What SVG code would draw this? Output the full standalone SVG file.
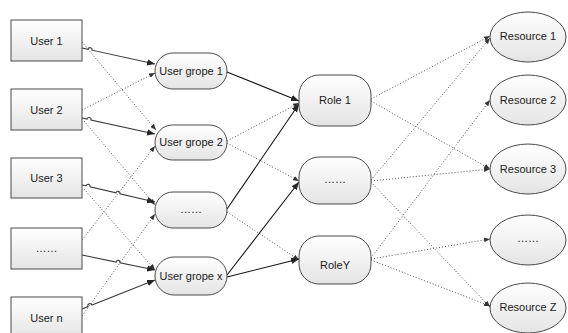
<svg xmlns="http://www.w3.org/2000/svg" width="568" height="333" viewBox="0 0 568 333">
  <defs>
    <linearGradient id="fillGrad" x1="0" y1="0" x2="0" y2="1">
      <stop offset="0" stop-color="#ffffff"/>
      <stop offset="1" stop-color="#e4e4e4"/>
    </linearGradient>
    <marker id="arrowSolid" markerUnits="userSpaceOnUse" markerWidth="9" markerHeight="8" refX="8" refY="4" orient="auto">
      <path d="M0,0.8 L8,4 L0,7.2 Z" fill="#262626"/>
    </marker>
    <marker id="arrowDot" markerUnits="userSpaceOnUse" markerWidth="7" markerHeight="6" refX="6" refY="3" orient="auto">
      <path d="M0,0.6 L6,3 L0,5.4 Z" fill="#333333"/>
    </marker>
  </defs>
  <style>
    .box { fill: url(#fillGrad); stroke: #4a4a4a; stroke-width: 1; }
    .lbl { font-family: "Liberation Sans", Arial, sans-serif; font-size: 11px; fill: #1a1a1a; text-anchor: middle; dominant-baseline: central; }
    .solid { fill: none; stroke: #3a3a3a; stroke-width: 1.1; marker-end: url(#arrowSolid); }
    .solidDark { fill: none; stroke: #111111; stroke-width: 1.1; marker-end: url(#arrowSolid); }
    .dotted { fill: none; stroke: #555555; stroke-width: 1; stroke-dasharray: 1 2; marker-end: url(#arrowDot); }
  </style>

  <!-- connectors -->
  <g id="connectors">
    <!-- users to user groups -->
    <path class="solid" d="M82,48 L88,49.3 A2,2 0 0 1 92,50.2 L155,64"/>
    <path class="dotted" d="M82,42 L156,130"/>
    <path class="dotted" d="M82,110 L155,73"/>
    <path class="solid" d="M82,118 L87,119.1 A2,2 0 0 1 91,120 L155,134"/>
    <path class="dotted" d="M84,121 L155,205"/>
    <path class="solid" d="M82,185 L86,185.9 A2,2 0 0 1 90,186.9 L116,192.9 A2,2 0 0 1 120,193.8 L155,202"/>
    <path class="dotted" d="M84,189 L155,270"/>
    <path class="dotted" d="M82,240 L155,146"/>
    <path class="solid" d="M82,255 L116,262 A2,2 0 0 1 120,262.8 L155,270"/>
    <path class="solid" d="M82,309 L88,306.6 A2,2 0 0 1 92,305 L155,280"/>
    <path class="dotted" d="M82,316 L155,214"/>

    <!-- user groups to roles -->
    <path class="solidDark" d="M227,72 L299,101"/>
    <path class="dotted" d="M227,141 L299,103"/>
    <path class="dotted" d="M227,143 L299,181"/>
    <path class="solidDark" d="M227,209 L299,104"/>
    <path class="dotted" d="M227,212 L299,260"/>
    <path class="solidDark" d="M227,275 L299,182"/>
    <path class="solidDark" d="M227,277 L299,259"/>

    <!-- roles to resources -->
    <path class="dotted" d="M371,99 L490,36"/>
    <path class="dotted" d="M371,101 L490,169"/>
    <path class="dotted" d="M371,180 L490,38"/>
    <path class="dotted" d="M371,181 L490,169"/>
    <path class="dotted" d="M371,182 L490,307"/>
    <path class="dotted" d="M371,258 L490,100"/>
    <path class="dotted" d="M371,259 L490,239"/>
    <path class="dotted" d="M371,260 L490,306"/>
  </g>

  <!-- users -->
  <g id="user1"><rect class="box" x="11" y="20" width="71" height="41"/><text class="lbl" x="46.5" y="41">User 1</text></g>
  <g id="user2"><rect class="box" x="11" y="89" width="71" height="41"/><text class="lbl" x="46.5" y="110">User 2</text></g>
  <g id="user3"><rect class="box" x="11" y="158" width="71" height="40"/><text class="lbl" x="46.5" y="178">User 3</text></g>
  <g id="userMore"><rect class="box" x="11" y="228" width="71" height="41"/><text class="lbl" x="46.5" y="248">……</text></g>
  <g id="userN"><rect class="box" x="11" y="297" width="71" height="41"/><text class="lbl" x="46.5" y="318">User n</text></g>

  <!-- user groups -->
  <g id="group1"><rect class="box" x="155" y="53" width="72" height="36" rx="18" ry="18"/><text class="lbl" x="191" y="71">User grope 1</text></g>
  <g id="group2"><rect class="box" x="155" y="125" width="72" height="35" rx="17.5" ry="17.5"/><text class="lbl" x="191" y="142">User grope 2</text></g>
  <g id="groupMore"><rect class="box" x="155" y="192" width="72" height="36" rx="18" ry="18"/><text class="lbl" x="191" y="209">……</text></g>
  <g id="groupX"><rect class="box" x="155" y="257" width="72" height="38" rx="19" ry="19"/><text class="lbl" x="191" y="276">User grope x</text></g>

  <!-- roles -->
  <g id="role1"><rect class="box" x="299" y="75" width="72" height="51" rx="20" ry="20"/><text class="lbl" x="335" y="100">Role 1</text></g>
  <g id="roleMore"><rect class="box" x="299" y="157" width="72" height="47" rx="20" ry="20"/><text class="lbl" x="335" y="179">……</text></g>
  <g id="roleY"><rect class="box" x="299" y="236" width="72" height="48" rx="20" ry="20"/><text class="lbl" x="335" y="265">RoleY</text></g>

  <!-- resources -->
  <g id="res1"><ellipse class="box" cx="528" cy="37" rx="38" ry="25"/><text class="lbl" x="528" y="36">Resource 1</text></g>
  <g id="res2"><ellipse class="box" cx="528" cy="100" rx="38" ry="25"/><text class="lbl" x="528" y="100">Resource 2</text></g>
  <g id="res3"><ellipse class="box" cx="528" cy="169" rx="38" ry="25"/><text class="lbl" x="528" y="169">Resource 3</text></g>
  <g id="resMore"><ellipse class="box" cx="528" cy="240" rx="38" ry="25"/><text class="lbl" x="528" y="238">……</text></g>
  <g id="resZ"><ellipse class="box" cx="528" cy="308" rx="38" ry="25"/><text class="lbl" x="528" y="307">Resource Z</text></g>
</svg>
